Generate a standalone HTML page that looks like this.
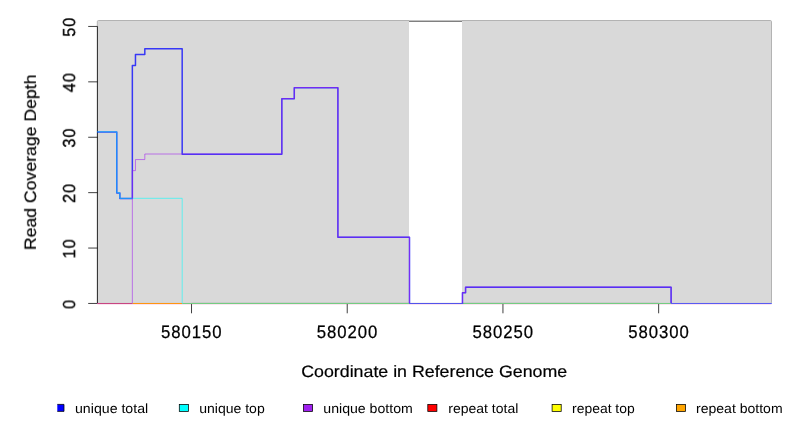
<!DOCTYPE html>
<html><head><meta charset="utf-8"><title>Read Coverage Depth</title>
<style>
html,body{margin:0;padding:0;background:#fff;}
body{width:792px;height:432px;overflow:hidden;}
svg{display:block;}
text{font-family:"Liberation Sans",sans-serif;fill:#000;will-change:transform;text-rendering:geometricPrecision;}
</style></head><body>
<svg width="792" height="432" viewBox="0 0 792 432">
<rect x="0" y="0" width="792" height="432" fill="#ffffff"/>
<!-- plot background -->
<rect x="97.3" y="20.5" width="674.2" height="282.9" rx="1.2" ry="1.2" fill="#d9d9d9" stroke="#a0a0a0" stroke-width="0.75"/>
<!-- gap -->
<rect x="409" y="20" width="53" height="283.9" fill="#ffffff"/>
<rect x="409" y="20" width="53" height="1" fill="#c2c2c2"/>
<rect x="409" y="21" width="53" height="1" fill="#808080"/>
<!-- axes -->
<g stroke="#000" stroke-width="0.75" fill="none">
<path d="M97.45,26.45V303.45"/>
<path d="M88.2,303.45H97.45M88.2,248.05H97.45M88.2,192.65H97.45M88.2,137.25H97.45M88.2,81.85H97.45M88.2,26.45H97.45"/>
<path d="M191.52,303.45H658.65"/>
<path d="M191.52,303.45V313.3M347.23,303.45V313.3M502.94,303.45V313.3M658.65,303.45V313.3"/>
</g>
<!-- data lines -->
<clipPath id="pc"><rect x="97.1" y="20" width="674.6" height="284.1"/></clipPath>
<g fill="none" stroke-linejoin="round" stroke-linecap="round" clip-path="url(#pc)">
<path d="M96.85,131.96H116.78V192.92H119.89V198.46H132.35V65.47H135.46V54.38H144.81V48.84H182.18V154.13H281.83V98.71H294.29V87.63H337.89V237.25H409.51V303.75H462.46V292.67H465.57V287.13H671.11V303.75H771.38" stroke="#0000ff" stroke-opacity="0.75" stroke-width="1.5"/>
<path transform="translate(0,-0.14)" d="M96.85,131.96H116.78V192.92H119.89V198.46H182.18V303.75H771.38" stroke="#00ffff" stroke-opacity="0.75" stroke-width="0.75"/>
<path transform="translate(0,-0.12)" d="M96.85,303.75H132.35V170.75H135.46V159.67H144.81V154.13H281.83V98.71H294.29V87.63H337.89V237.25H409.51V303.75H462.46V292.67H465.57V287.13H671.11V303.75H771.38" stroke="#a020f0" stroke-opacity="0.75" stroke-width="0.75"/>
</g>
<!-- zero line recolor -->
<rect x="97.3" y="303" width="35" height="1" fill="#c84682"/>
<rect x="132.6" y="303" width="49.4" height="1" fill="#ff9610"/>
<rect x="182.4" y="303" width="226.6" height="1" fill="#73cd82"/>
<rect x="463.3" y="303" width="207.6" height="1" fill="#73cd82"/>
<rect x="97.3" y="304" width="674.2" height="1" fill="#e02080" fill-opacity="0.12"/>
<!-- y tick labels -->
<g font-size="17.6" text-anchor="middle" letter-spacing="1.0" stroke="#000" stroke-width="0.3">
<text transform="translate(75.1,303.9) rotate(-90) scale(0.93,1)">0</text>
<text transform="translate(75.1,248.5) rotate(-90) scale(0.93,1)">10</text>
<text transform="translate(75.1,193.1) rotate(-90) scale(0.93,1)">20</text>
<text transform="translate(75.1,137.7) rotate(-90) scale(0.93,1)">30</text>
<text transform="translate(75.1,82.3) rotate(-90) scale(0.93,1)">40</text>
<text transform="translate(75.1,26.9) rotate(-90) scale(0.93,1)">50</text>
</g>
<!-- x tick labels -->
<g font-size="18" text-anchor="middle" letter-spacing="1.0" stroke="#000" stroke-width="0.25">
<text transform="translate(191.82000000000002,338.2) scale(0.93,1)">580150</text>
<text transform="translate(347.53000000000003,338.2) scale(0.93,1)">580200</text>
<text transform="translate(503.24,338.2) scale(0.93,1)">580250</text>
<text transform="translate(658.9499999999999,338.2) scale(0.93,1)">580300</text>
</g>
<!-- axis titles -->
<text x="434.2" y="376.6" font-size="16.4" stroke="#000" stroke-width="0.2" text-anchor="middle" textLength="266" lengthAdjust="spacingAndGlyphs">Coordinate in Reference Genome</text>
<text transform="translate(35.9,162.35) rotate(-90)" font-size="16.4" stroke="#000" stroke-width="0.2" text-anchor="middle" textLength="175.5" lengthAdjust="spacingAndGlyphs">Read Coverage Depth</text>
<!-- legend -->
<g stroke="#000" stroke-width="0.75">
<rect x="57.3" y="404.4" width="6.7" height="7" fill="#0000ff" stroke="none"/>
<path d="M57.3,404.4H64V411.4H57.3" fill="none"/>
<rect x="179.3" y="404.4" width="9.1" height="7" fill="#00ffff"/>
<rect x="303.5" y="404.4" width="9.1" height="7" fill="#a020f0"/>
<rect x="427.8" y="404.4" width="9.1" height="7" fill="#ff0000"/>
<rect x="552.1" y="404.4" width="9.1" height="7" fill="#ffff00"/>
<rect x="676.4" y="404.4" width="9.1" height="7" fill="#ffa500"/>
</g>
<g font-size="13.4">
<text x="75" y="412.9" textLength="73.2" lengthAdjust="spacingAndGlyphs">unique total</text>
<text x="199.2" y="412.9" textLength="65.5" lengthAdjust="spacingAndGlyphs">unique top</text>
<text x="323.3" y="412.9" textLength="89.5" lengthAdjust="spacingAndGlyphs">unique bottom</text>
<text x="448.3" y="412.9" textLength="70" lengthAdjust="spacingAndGlyphs">repeat total</text>
<text x="572.1" y="412.9" textLength="62.6" lengthAdjust="spacingAndGlyphs">repeat top</text>
<text x="696" y="412.9" textLength="86.6" lengthAdjust="spacingAndGlyphs">repeat bottom</text>
</g>
</svg>
</body></html>
